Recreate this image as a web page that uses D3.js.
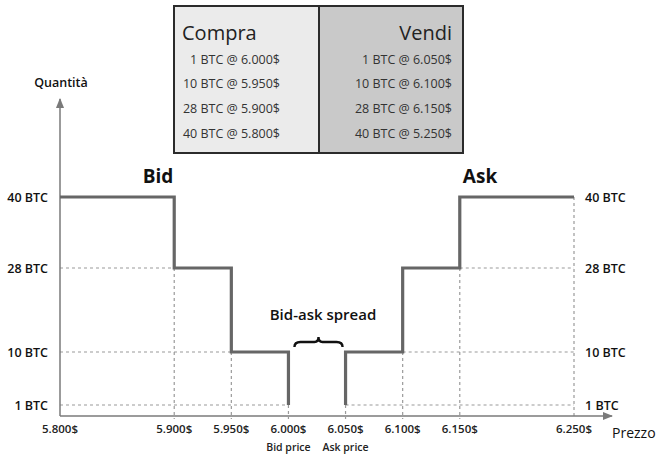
<!DOCTYPE html>
<html>
<head>
<meta charset="utf-8">
<script src="https://cdn.jsdelivr.net/npm/d3@7"></script>
<style>
  html, body { margin: 0; padding: 0; background: #fff; }
  svg { display: block; font-family: "Open Sans", "Noto Sans", sans-serif; }
</style>
</head>
<body>
<svg id="chart" width="656" height="454"></svg>
<script>
// Order book: buy side (bid) and sell side (ask)
const bidPrices = [5800, 5900, 5950, 6000];
const bidQty = [40, 28, 10, 1];
const askPrices = [6050, 6100, 6150, 6250];
const askQty = [1, 10, 28, 40];

// Quotes as listed in the order book table
const buyTableQty = [1, 10, 28, 40];
const buyTablePrice = [6000, 5950, 5900, 5800];
const sellTableQty = [1, 10, 28, 40];
const sellTablePrice = [6050, 6100, 6150, 5250];

const priceTicks = [5800, 5900, 5950, 6000, 6050, 6100, 6150, 6250];
const qtyTicks = [40, 28, 10, 1];

const it = d3.formatLocale({ decimal: ",", thousands: ".", grouping: [3], currency: ["", "$"] });
const fmtPrice = v => it.format(",")(v) + "$";

const svg = d3.select("#chart");

const x = d3.scaleLinear().domain([5800, 6250]).range([60, 574]);
// Quantity axis is drawn piecewise so the small levels stay readable
const y = d3.scaleLinear().domain([0, 1, 10, 28, 40]).range([416, 405, 352, 268, 197]);

const gridColor = "#9a9a9a";
const axisColor = "#7a7a7a";
const stepColor = "#666666";

// ---- order book table ----
const table = svg.append("g");
const tL = 174, tR = 463, tM = 319, tT = 6, tB = 153;
table.append("rect").attr("x", tL).attr("y", tT).attr("width", tM - tL).attr("height", tB - tT).attr("fill", "#ebebeb");
table.append("rect").attr("x", tM).attr("y", tT).attr("width", tR - tM).attr("height", tB - tT).attr("fill", "#c9c9c9");
table.append("rect").attr("x", tL).attr("y", tT).attr("width", tR - tL).attr("height", tB - tT)
  .attr("fill", "none").attr("stroke", "#2b2b2b").attr("stroke-width", 2);
table.append("line").attr("x1", tM).attr("x2", tM).attr("y1", tT).attr("y2", tB)
  .attr("stroke", "#2b2b2b").attr("stroke-width", 2);
table.append("text").attr("x", 182).attr("y", 32).attr("dominant-baseline", "central")
  .attr("font-size", 20).attr("fill", "#222").text("Compra");
table.append("text").attr("x", 452).attr("y", 32).attr("dominant-baseline", "central")
  .attr("text-anchor", "end").attr("font-size", 20).attr("fill", "#222").text("Vendi");
const rowY = d3.scalePoint().domain(d3.range(4)).range([59, 133]);
table.selectAll("text.buy").data(buyTableQty).join("text").attr("class", "buy")
  .attr("x", 280).attr("y", (d, i) => rowY(i)).attr("dominant-baseline", "central")
  .attr("text-anchor", "end").attr("font-size", 12.5).attr("fill", "#333")
  .text((d, i) => `${d} BTC @ ${fmtPrice(buyTablePrice[i])}`);
table.selectAll("text.sell").data(sellTableQty).join("text").attr("class", "sell")
  .attr("x", 452).attr("y", (d, i) => rowY(i)).attr("dominant-baseline", "central")
  .attr("text-anchor", "end").attr("font-size", 12.5).attr("fill", "#333")
  .text((d, i) => `${d} BTC @ ${fmtPrice(sellTablePrice[i])}`);

// ---- dashed guides ----
const guides = svg.append("g").attr("stroke", gridColor).attr("stroke-width", 1.2)
  .attr("stroke-dasharray", "3,3").attr("fill", "none");
bidPrices.forEach((p, i) => {
  if (i === 0) return;
  guides.append("line").attr("x1", x(bidPrices[0])).attr("x2", x(p)).attr("y1", y(bidQty[i])).attr("y2", y(bidQty[i]));
  guides.append("line").attr("x1", x(p)).attr("x2", x(p)).attr("y1", y(bidQty[i])).attr("y2", y(0) + 3);
});
askPrices.forEach((p, i) => {
  guides.append("line").attr("x1", x(p)).attr("x2", x(p)).attr("y1", y(askQty[i])).attr("y2", y(0) + 3);
  if (i < askPrices.length - 1)
    guides.append("line").attr("x1", x(p)).attr("x2", x(askPrices[askPrices.length - 1])).attr("y1", y(askQty[i])).attr("y2", y(askQty[i]));
});

// ---- axes with arrows ----
svg.append("defs").append("marker").attr("id", "arrow").attr("viewBox", "0 0 10 10")
  .attr("refX", 9).attr("refY", 5).attr("markerWidth", 7).attr("markerHeight", 7)
  .attr("orient", "auto").append("path").attr("d", "M0,1 L10,5 L0,9 Z").attr("fill", axisColor);
svg.append("line").attr("x1", x(5800)).attr("x2", x(5800)).attr("y1", y(0)).attr("y2", 99)
  .attr("stroke", axisColor).attr("stroke-width", 1.5).attr("marker-end", "url(#arrow)");
svg.append("line").attr("x1", x(5800)).attr("x2", 612).attr("y1", y(0)).attr("y2", y(0))
  .attr("stroke", axisColor).attr("stroke-width", 1.5).attr("marker-end", "url(#arrow)");

// ---- step curves ----
const stepLine = curve => d3.line().x(d => x(d[0])).y(d => y(d[1])).curve(curve);
svg.append("path").datum(d3.zip(bidPrices, bidQty))
  .attr("d", stepLine(d3.curveStepAfter)).attr("fill", "none")
  .attr("stroke", stepColor).attr("stroke-width", 3.2);
svg.append("path").datum(d3.zip(askPrices, askQty))
  .attr("d", stepLine(d3.curveStepBefore)).attr("fill", "none")
  .attr("stroke", stepColor).attr("stroke-width", 3.2);

// ---- labels ----
const labels = svg.append("g").attr("fill", "#111");
labels.selectAll("text.ql").data(qtyTicks).join("text").attr("class", "ql")
  .attr("x", 48).attr("y", d => y(d)).attr("dominant-baseline", "central").attr("text-anchor", "end")
  .attr("font-size", 12.5).attr("font-weight", 600).text(d => `${d} BTC`);
labels.selectAll("text.qr").data(qtyTicks).join("text").attr("class", "qr")
  .attr("x", 585).attr("y", d => y(d)).attr("dominant-baseline", "central")
  .attr("font-size", 12.5).attr("font-weight", 600).text(d => `${d} BTC`);
labels.selectAll("text.px").data(priceTicks).join("text").attr("class", "px")
  .attr("x", d => x(d)).attr("y", 428).attr("dominant-baseline", "central").attr("text-anchor", "middle")
  .attr("font-size", 11.5).attr("font-weight", 600).attr("fill", "#222").text(fmtPrice);
labels.append("text").attr("x", x(bidPrices[bidPrices.length - 1])).attr("y", 447)
  .attr("dominant-baseline", "central").attr("text-anchor", "middle")
  .attr("font-size", 10.5).attr("font-weight", 600).attr("fill", "#222").text("Bid price");
labels.append("text").attr("x", x(askPrices[0])).attr("y", 447)
  .attr("dominant-baseline", "central").attr("text-anchor", "middle")
  .attr("font-size", 10.5).attr("font-weight", 600).attr("fill", "#222").text("Ask price");
labels.append("text").attr("x", 612).attr("y", 432).attr("dominant-baseline", "central")
  .attr("font-size", 14).text("Prezzo");
labels.append("text").attr("x", 61).attr("y", 82).attr("dominant-baseline", "central").attr("text-anchor", "middle")
  .attr("font-size", 12.5).attr("font-weight", 600).text("Quantità");
labels.append("text").attr("x", 158).attr("y", 176).attr("dominant-baseline", "central").attr("text-anchor", "middle")
  .attr("font-size", 19).attr("font-weight", 700).text("Bid");
labels.append("text").attr("x", 480).attr("y", 176).attr("dominant-baseline", "central").attr("text-anchor", "middle")
  .attr("font-size", 19).attr("font-weight", 700).text("Ask");
labels.append("text").attr("x", 323).attr("y", 314).attr("dominant-baseline", "central").attr("text-anchor", "middle")
  .attr("font-size", 15).attr("font-weight", 600).text("Bid-ask spread");

// curly brace spanning the spread
const bx0 = x(bidPrices[bidPrices.length - 1]) + 6, bx1 = x(askPrices[0]) - 3, bm = (bx0 + bx1) / 2;
const bh = 342, bTip = 337, bEnd = 347;
svg.append("path")
  .attr("d", `M${bx0},${bEnd} Q${bx0},${bh} ${bx0 + 6},${bh} L${bm - 4},${bh} Q${bm},${bh} ${bm},${bTip}
              Q${bm},${bh} ${bm + 4},${bh} L${bx1 - 6},${bh} Q${bx1},${bh} ${bx1},${bEnd}`)
  .attr("fill", "none").attr("stroke", "#111").attr("stroke-width", 2.4);
</script>
</body>
</html>
